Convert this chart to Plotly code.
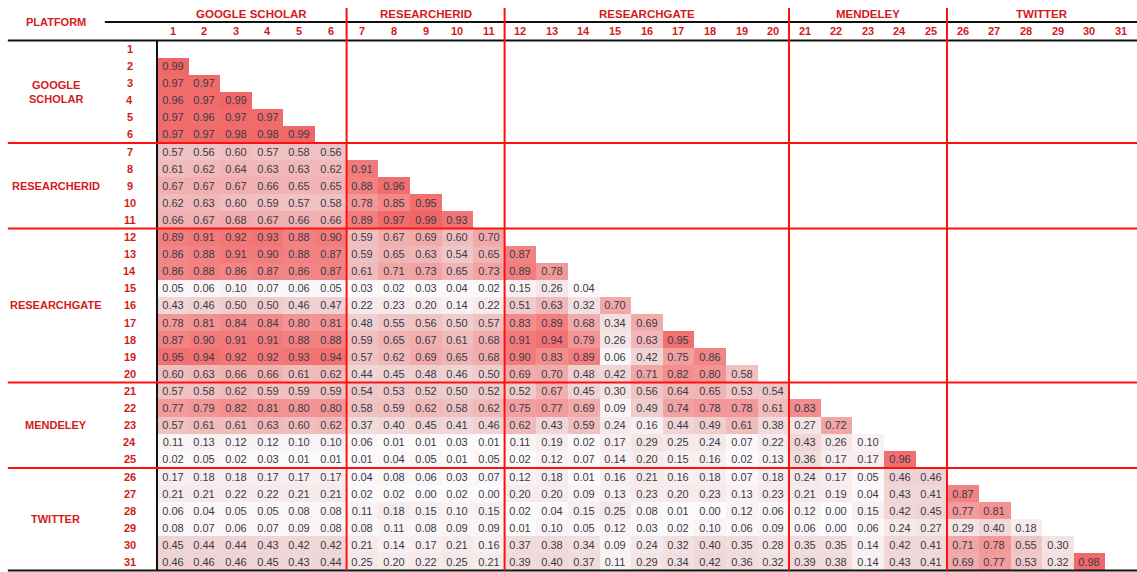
import plotly.graph_objects as go

# ---------------- data ----------------
groups = ["GOOGLE SCHOLAR", "RESEARCHERID", "RESEARCHGATE", "MENDELEY", "TWITTER"]
row_group_labels = ["GOOGLE<br>SCHOLAR", "RESEARCHERID", "RESEARCHGATE", "MENDELEY", "TWITTER"]
group_sizes = [6, 5, 9, 5, 6]
tick_labels = [str(i) for i in range(1, 32)]

google_scholar_rows = [
    [],
    [0.99],
    [0.97, 0.97],
    [0.96, 0.97, 0.99],
    [0.97, 0.96, 0.97, 0.97],
    [0.97, 0.97, 0.98, 0.98, 0.99],
]
researcherid_rows = [
    [0.57, 0.56, 0.60, 0.57, 0.58, 0.56],
    [0.61, 0.62, 0.64, 0.63, 0.63, 0.62, 0.91],
    [0.67, 0.67, 0.67, 0.66, 0.65, 0.65, 0.88, 0.96],
    [0.62, 0.63, 0.60, 0.59, 0.57, 0.58, 0.78, 0.85, 0.95],
    [0.66, 0.67, 0.68, 0.67, 0.66, 0.66, 0.89, 0.97, 0.99, 0.93],
]
researchgate_rows = [
    [0.89, 0.91, 0.92, 0.93, 0.88, 0.90, 0.59, 0.67, 0.69, 0.60, 0.70],
    [0.86, 0.88, 0.91, 0.90, 0.88, 0.87, 0.59, 0.65, 0.63, 0.54, 0.65, 0.87],
    [0.86, 0.88, 0.86, 0.87, 0.86, 0.87, 0.61, 0.71, 0.73, 0.65, 0.73, 0.89, 0.78],
    [0.05, 0.06, 0.10, 0.07, 0.06, 0.05, 0.03, 0.02, 0.03, 0.04, 0.02, 0.15, 0.26, 0.04],
    [0.43, 0.46, 0.50, 0.50, 0.46, 0.47, 0.22, 0.23, 0.20, 0.14, 0.22, 0.51, 0.63, 0.32, 0.70],
    [0.78, 0.81, 0.84, 0.84, 0.80, 0.81, 0.48, 0.55, 0.56, 0.50, 0.57, 0.83, 0.89, 0.68, 0.34, 0.69],
    [0.87, 0.90, 0.91, 0.91, 0.88, 0.88, 0.59, 0.65, 0.67, 0.61, 0.68, 0.91, 0.94, 0.79, 0.26, 0.63, 0.95],
    [0.95, 0.94, 0.92, 0.92, 0.93, 0.94, 0.57, 0.62, 0.69, 0.65, 0.68, 0.90, 0.83, 0.89, 0.06, 0.42, 0.75, 0.86],
    [0.60, 0.63, 0.66, 0.66, 0.61, 0.62, 0.44, 0.45, 0.48, 0.46, 0.50, 0.69, 0.70, 0.48, 0.42, 0.71, 0.82, 0.80, 0.58],
]
mendeley_rows = [
    [0.57, 0.58, 0.62, 0.59, 0.59, 0.59, 0.54, 0.53, 0.52, 0.50, 0.52,
     0.52, 0.67, 0.45, 0.30, 0.56, 0.64, 0.65, 0.53, 0.54],
    [0.77, 0.79, 0.82, 0.81, 0.80, 0.80, 0.58, 0.59, 0.62, 0.58, 0.62,
     0.75, 0.77, 0.69, 0.09, 0.49, 0.74, 0.78, 0.78, 0.61, 0.83],
    [0.57, 0.61, 0.61, 0.63, 0.60, 0.62, 0.37, 0.40, 0.45, 0.41, 0.46,
     0.62, 0.43, 0.59, 0.24, 0.16, 0.44, 0.49, 0.61, 0.38, 0.27, 0.72],
    [0.11, 0.13, 0.12, 0.12, 0.10, 0.10, 0.06, 0.01, 0.01, 0.03, 0.01,
     0.11, 0.19, 0.02, 0.17, 0.29, 0.25, 0.24, 0.07, 0.22, 0.43, 0.26, 0.10],
    [0.02, 0.05, 0.02, 0.03, 0.01, 0.01, 0.01, 0.04, 0.05, 0.01, 0.05,
     0.02, 0.12, 0.07, 0.14, 0.20, 0.15, 0.16, 0.02, 0.13, 0.36, 0.17, 0.17, 0.96],
]
twitter_rows = [
    [0.17, 0.18, 0.18, 0.17, 0.17, 0.17, 0.04, 0.08, 0.06, 0.03, 0.07,
     0.12, 0.18, 0.01, 0.16, 0.21, 0.16, 0.18, 0.07, 0.18, 0.24, 0.17, 0.05, 0.46, 0.46],
    [0.21, 0.21, 0.22, 0.22, 0.21, 0.21, 0.02, 0.02, 0.00, 0.02, 0.00,
     0.20, 0.20, 0.09, 0.13, 0.23, 0.20, 0.23, 0.13, 0.23, 0.21, 0.19, 0.04, 0.43, 0.41, 0.87],
    [0.06, 0.04, 0.05, 0.05, 0.08, 0.08, 0.11, 0.18, 0.15, 0.10, 0.15,
     0.02, 0.04, 0.15, 0.25, 0.08, 0.01, 0.00, 0.12, 0.06, 0.12, 0.00, 0.15, 0.42, 0.45, 0.77, 0.81],
    [0.08, 0.07, 0.06, 0.07, 0.09, 0.08, 0.08, 0.11, 0.08, 0.09, 0.09,
     0.01, 0.10, 0.05, 0.12, 0.03, 0.02, 0.10, 0.06, 0.09, 0.06, 0.00, 0.06, 0.24, 0.27, 0.29, 0.40, 0.18],
    [0.45, 0.44, 0.44, 0.43, 0.42, 0.42, 0.21, 0.14, 0.17, 0.21, 0.16,
     0.37, 0.38, 0.34, 0.09, 0.24, 0.32, 0.40, 0.35, 0.28, 0.35, 0.35, 0.14, 0.42, 0.41, 0.71, 0.78, 0.55, 0.30],
    [0.46, 0.46, 0.46, 0.45, 0.43, 0.44, 0.25, 0.20, 0.22, 0.25, 0.21,
     0.39, 0.40, 0.37, 0.11, 0.29, 0.34, 0.42, 0.36, 0.32, 0.39, 0.38, 0.14, 0.43, 0.41, 0.69, 0.77, 0.53, 0.32, 0.98],
]

# ---------------- build matrix ----------------
all_rows = google_scholar_rows + researcherid_rows + researchgate_rows + mendeley_rows + twitter_rows
n = len(tick_labels)
z = []
for r in all_rows:
    z.append(list(r) + [None] * (n - len(r)))

xs = list(range(1, n + 1))
ys = list(range(1, n + 1))

RED = "#d41a1a"
LINE_RED = "#ff1010"
FONT_HDR = "Liberation Sans Narrow, Arial Narrow, Liberation Sans, Arial, sans-serif"
FONT_LBL = "Liberation Sans, Arial, sans-serif"

colorscale = [
    [0.0, "rgb(253,251,253)"],
    [0.25, "rgb(245,232,232)"],
    [0.45, "rgb(239,212,212)"],
    [0.6, "rgb(240,190,190)"],
    [0.8, "rgb(243,148,148)"],
    [1.0, "rgb(241,100,100)"],
]

fig = go.Figure(go.Heatmap(
    z=z, x=xs, y=ys,
    zmin=0, zmax=1,
    colorscale=colorscale,
    showscale=False,
    texttemplate="%{z:.2f}",
    textfont=dict(size=11, color="#3a3a48", family=FONT_LBL),
    hoverinfo="skip",
))

# geometry (data units)
x_left = -4.22
x_right = 31.6
y_top_lines = -1.40
y_hdr_line = -0.58
x_hdr_line = -1.15
y_group_lbl = -1.05
y_col_num = -0.05
x_row_num = -0.36
x_row_group = -2.70

shapes = []
shapes.append(dict(type="line", x0=x_hdr_line, x1=x_right, y0=y_hdr_line, y1=y_hdr_line,
                   line=dict(color="#111", width=2)))
shapes.append(dict(type="line", x0=x_left, x1=x_right, y0=0.5, y1=0.5,
                   line=dict(color="#111", width=2)))
shapes.append(dict(type="line", x0=x_left, x1=x_right, y0=n + 0.5, y1=n + 0.5,
                   line=dict(color="#111", width=2)))
shapes.append(dict(type="line", x0=0.5, x1=0.5, y0=0.5, y1=n + 0.5,
                   line=dict(color="#111", width=2)))

cum = 0
bounds = []
for s in group_sizes[:-1]:
    cum += s
    bounds.append(cum + 0.5)
for b in bounds:
    shapes.append(dict(type="line", x0=x_left, x1=x_right, y0=b, y1=b,
                       line=dict(color=LINE_RED, width=2)))
    shapes.append(dict(type="line", x0=b, x1=b, y0=y_top_lines, y1=n + 0.5,
                       line=dict(color=LINE_RED, width=2)))

annotations = []
annotations.append(dict(x=x_row_group, y=y_hdr_line, text="<b>PLATFORM</b>", showarrow=False,
                        font=dict(size=11, color=RED, family=FONT_LBL), xanchor="center", yanchor="middle"))
start = 1
for g, rg, s in zip(groups, row_group_labels, group_sizes):
    center = start + (s - 1) / 2
    annotations.append(dict(x=center, y=y_group_lbl, text="<b>" + g + "</b>", showarrow=False,
                            font=dict(size=11.5, color=RED, family=FONT_HDR)))
    annotations.append(dict(x=x_row_group, y=center, text="<b>" + rg + "</b>", showarrow=False,
                            font=dict(size=11, color=RED, family=FONT_LBL)))
    start += s
for i, t in enumerate(tick_labels):
    annotations.append(dict(x=i + 1, y=y_col_num, text="<b>" + t + "</b>", showarrow=False,
                            font=dict(size=11, color=RED, family=FONT_HDR)))
    annotations.append(dict(x=x_row_num, y=i + 1, text="<b>" + t + "</b>", showarrow=False,
                            font=dict(size=11, color=RED, family=FONT_HDR)))

fig.update_layout(
    width=1137, height=572,
    margin=dict(l=0, r=0, t=0, b=0),
    paper_bgcolor="white", plot_bgcolor="white",
    shapes=shapes, annotations=annotations,
    xaxis=dict(range=[-4.468, 31.513], visible=False, fixedrange=True),
    yaxis=dict(range=[31.585, -1.865], visible=False, fixedrange=True),
)

fig.write_html("out.html",
               config={"displayModeBar": False},
               post_script="document.body.style.margin='0px';document.body.style.overflow='hidden';")
